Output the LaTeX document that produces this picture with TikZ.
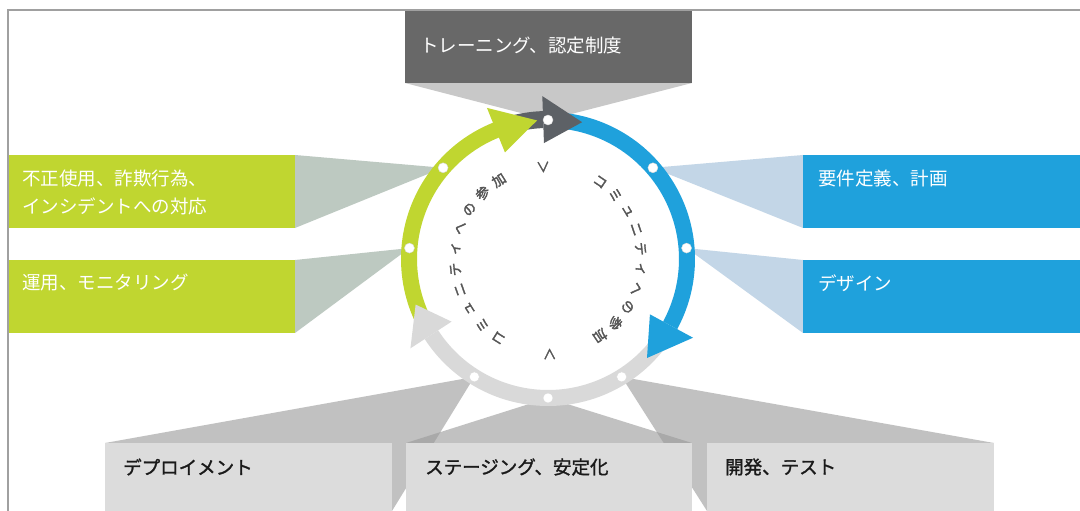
\documentclass[tikz,border=0pt]{standalone}
\usepackage{fontspec}
\newfontfamily\jp{Noto Sans CJK JP}
\newfontfamily\jpb{Noto Sans CJK JP}[FakeBold=1.5]
\newfontfamily\jpc{Noto Sans CJK JP}[FakeBold=2.5]
\definecolor{cgreen}{HTML}{C0D630}
\definecolor{cblue}{HTML}{1FA1DC}
\definecolor{ctop}{HTML}{686868}
\definecolor{cdark}{HTML}{5D6166}
\definecolor{clight}{HTML}{D9D9D9}
\definecolor{cbox}{HTML}{DCDCDC}
\definecolor{wtop}{HTML}{C8C8C8}
\definecolor{wgreen}{HTML}{BDC9C1}
\definecolor{wblue}{HTML}{C3D6E7}
\definecolor{ctxt}{HTML}{1A1A1A}
\definecolor{cring}{HTML}{555555}
\definecolor{cframe}{HTML}{A0A0A0}
\pgfdeclarelayer{bg}
\pgfsetlayers{bg,main}
\begin{document}
\begin{tikzpicture}[x=1pt,y=1pt,
  box/.style={rectangle, inner sep=0pt, outer sep=0pt, anchor=north west, minimum height=73pt},
  lblw/.style={anchor=west, inner sep=0pt, text=white, font=\jp\fontsize{18.5}{28}\selectfont, align=left},
  lblk/.style={anchor=west, inner sep=0pt, text=ctxt, font=\jpb\fontsize{18.5}{28}\selectfont},
  ctext/.style={inner sep=0pt, text=cring, font=\jpc\fontsize{13.5}{13.5}\selectfont},
  dot/.style={circle, fill=white, draw=white!85!black, line width=0.4pt, minimum size=10pt, inner sep=0pt},
  wbot/.style={fill=black!40, opacity=0.6}
]
\useasboundingbox (0,0) rectangle (1080,511);

% boxes
\node[box, fill=ctop, minimum width=287pt] (bT) at (405,501) {};
\node[box, fill=cgreen, minimum width=287pt] (bG1) at (8,356) {};
\node[box, fill=cgreen, minimum width=287pt] (bG2) at (8,251) {};
\node[box, fill=cblue, minimum width=277pt] (bB1) at (803,356) {};
\node[box, fill=cblue, minimum width=277pt] (bB2) at (803,251) {};
\node[box, fill=cbox, minimum width=287pt, minimum height=68pt] (bD1) at (105,68) {};
\node[box, fill=cbox, minimum width=286pt, minimum height=68pt] (bD2) at (406,68) {};
\node[box, fill=cbox, minimum width=287pt, minimum height=68pt] (bD3) at (707,68) {};

% ring points
\begin{scope}[shift={(548,252)}]
  \foreach \n/\a in {T/90, B1/41, B2/4.5, G1/139, G2/175.5, D3/-58, D2/-90, D1/-122}
    \coordinate (p\n) at (\a:139);
\end{scope}

% wedges
\begin{pgfonlayer}{bg}
  \fill[white] (0,0) rectangle (1080,511);
  \fill[wtop] (bT.south west) -- (bT.south east) -- (pT) -- cycle;
  \fill[wgreen] (bG1.north east) -- (bG1.south east) -- (pG1) -- cycle;
  \fill[wgreen] (bG2.north east) -- (bG2.south east) -- (pG2) -- cycle;
  \fill[wblue] (bB1.north west) -- (bB1.south west) -- (pB1) -- cycle;
  \fill[wblue] (bB2.north west) -- (bB2.south west) -- (pB2) -- cycle;
  \fill[wbot] (bD1.north west) -- (pD1) -- (bD1.south east) -- cycle;
  \fill[wbot] (bD2.north west) -- (pD2) -- (bD2.north east) -- cycle;
  \fill[wbot] (bD3.north east) -- (pD3) -- (bD3.south west) -- cycle;
\end{pgfonlayer}

% ring arrows
\begin{scope}[shift={(548,252)}]
  % bands
  \fill[cgreen] (207:147) arc[start angle=207, end angle=111, radius=147] -- (111:131) arc[start angle=111, end angle=207, radius=131] -- cycle;
  \fill[cdark] (106:148) arc[start angle=106, end angle=92, radius=148] -- (92:131) arc[start angle=92, end angle=106, radius=131] -- cycle;
  \fill[cblue] (85:147) arc[start angle=85, end angle=-28.5, radius=147] -- (-28.5:131) arc[start angle=-28.5, end angle=85, radius=131] -- cycle;
  \fill[clight] (-36:147) arc[start angle=-36, end angle=-147, radius=147] -- (-147:131) arc[start angle=-147, end angle=-36, radius=131] -- cycle;
  % heads
  \fill[cdark] (92:116) -- (92:163) -- (76:141) -- cycle;
  \fill[cgreen] (112:115) -- (112:163) -- (94.5:139) -- cycle;
  \fill[cblue] (-28.5:116) -- (-28.5:165) -- (-45:140) -- cycle;
  \fill[clight] (-147:115) -- (-147:164) -- (-161:140) -- cycle;
  % circular text
  \foreach \ch [count=\i from 0] in {コ,ミ,ュ,ニ,テ,ィ,へ,の,参,加} {
    \pgfmathsetmacro\ang{56-\i*12.44}
    \node[ctext, rotate=\ang-90] (r\i) at (\ang:93) {\ch};
  }
  \foreach \ch [count=\i from 0] in {コ,ミ,ュ,ニ,テ,ィ,へ,の,参,加} {
    \pgfmathsetmacro\ang{238-\i*12.9}
    \node[ctext, rotate=\ang-90] (l\i) at (\ang:93) {\ch};
  }
  \node[ctext, rotate=3] (mT) at (93:92) {∨};
  \node[ctext, rotate=-179] (mB) at (-89:95) {∨};
\end{scope}

% dots
\foreach \n in {T, B1, B2, G1, G2, D1, D2, D3}
  \node[dot] (dot\n) at (p\n) {};

% labels
\node[lblw] (tT) at (420,465) {トレーニング、認定制度};
\node[lblw] (tG1) at (22,319) {不正使用、詐欺行為、\\インシデントへの対応};
\node[lblw] (tG2) at (22,228) {運用、モニタリング};
\node[lblw] (tB1) at (818,332) {要件定義、計画};
\node[lblw] (tB2) at (818,228) {デザイン};
\node[lblk] (tD1) at (123,44) {デプロイメント};
\node[lblk] (tD2) at (425,44) {ステージング、安定化};
\node[lblk] (tD3) at (725,44) {開発、テスト};

% frame
\draw[cframe, line width=1.2pt] (8,0) -- (8,501) -- (1080,501);
\end{tikzpicture}
\end{document}
